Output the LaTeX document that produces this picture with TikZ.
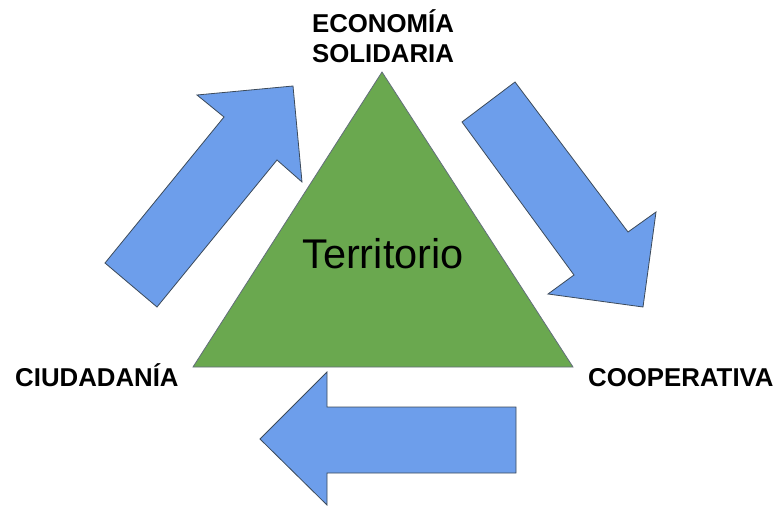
\documentclass[tikz,border=0pt]{standalone}
\usepackage{fontspec}
\setmainfont{Liberation Sans}
\definecolor{triGreen}{HTML}{6AA84F}
\definecolor{arrBlue}{HTML}{6D9EEB}
\definecolor{edgeGray}{HTML}{3C4A5A}
\tikzset{
  shapearrow/.style={fill=arrBlue, draw=edgeGray, line width=0.8pt, line join=miter},
  trishape/.style={fill=triGreen, draw=edgeGray!80, line width=0.8pt, line join=miter},
  lbl/.style={inner sep=0pt, font=\fontsize{25.8}{30}\selectfont\bfseries},
}
\begin{document}
\begin{tikzpicture}[x=1pt,y=-1pt]
\useasboundingbox (0,0) rectangle (775,508);
% triangle
\draw[trishape] (382,72) -- (573,367) -- (193,367) -- cycle;
\node[inner sep=0pt, anchor=base, font=\fontsize{41.5}{48}\selectfont] (terr) at (383,268) {Territorio};
% arrows
\draw[shapearrow] (105,263) -- (224,117) -- (197,95) -- (293,86) -- (302,182) -- (277,160) -- (157,307) -- cycle;
\draw[shapearrow] (515,82) -- (628,232) -- (656,212) -- (643,307) -- (548,294) -- (574,275) -- (462,122) -- cycle;
\draw[shapearrow] (260,439) -- (327,372) -- (327,407) -- (516,407) -- (516,473) -- (327,473) -- (327,505) -- cycle;
% labels
\node[lbl, anchor=base] (eco) at (383,33) {ECONOMÍA};
\node[lbl, anchor=base] (sol) at (383,63) {SOLIDARIA};
\node[lbl, anchor=base west] (ciu) at (15,386) {CIUDADANÍA};
\node[lbl, anchor=base west] (coop) at (588,386) {COOPERATIVA};
\end{tikzpicture}
\end{document}
